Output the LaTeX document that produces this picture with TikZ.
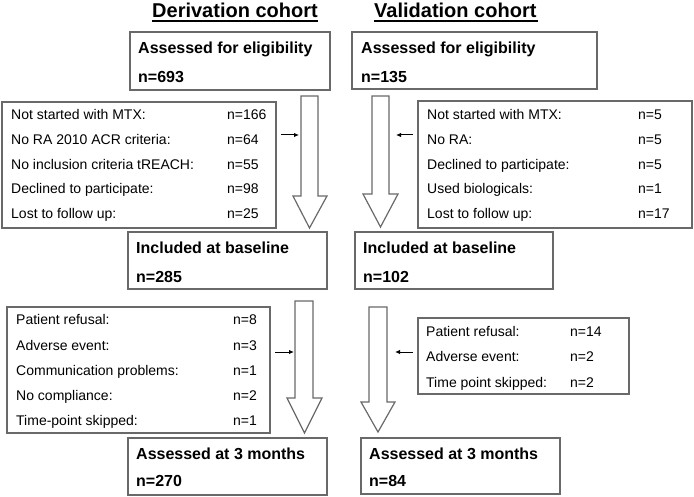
\documentclass[tikz,border=0pt]{standalone}
\usepackage{fontspec}
\setmainfont{Liberation Sans}
\usetikzlibrary{arrows.meta}
\definecolor{boxgray}{RGB}{105,105,105}
\tikzset{
  box/.style={draw=boxgray, line width=1.2pt},
  bigarrow/.style={draw=boxgray, line width=1.2pt, fill=white, line join=miter},
  smallarrow/.style={draw=black, line width=1pt, -{Latex[length=5pt,width=4.5pt]}},
  ttl/.style={inner sep=0pt, anchor=base west, font=\fontsize{20}{24}\selectfont\bfseries},
  btxt/.style={inner sep=0pt, anchor=base west, font=\fontsize{16}{19}\selectfont\bfseries},
  stxt/.style={inner sep=0pt, anchor=base west, font=\fontsize{14}{17}\selectfont},
}
\begin{document}
\begin{tikzpicture}[x=1pt,y=-1pt]
\useasboundingbox (0,0) rectangle (694,497);

% titles
\node[ttl] (t1) at (152,17.5) {Derivation cohort};
\node[ttl] (t2) at (374,17.5) {Validation cohort};
\draw[line width=1.7pt] (152,21) -- (318,21);
\draw[line width=1.7pt] (374,21) -- (538,21);

% main boxes
\draw[box] (130,32) rectangle (330,90);
\node[btxt] (d1a) at (138,54) {Assessed for eligibility};
\node[btxt] (d1b) at (138,83) {n=693};

\draw[box] (352,32) rectangle (597,89);
\node[btxt] (v1a) at (361,54) {Assessed for eligibility};
\node[btxt] (v1b) at (361,83) {n=135};

\draw[box] (128,232) rectangle (327,289);
\node[btxt] (d2a) at (136,254) {Included at baseline};
\node[btxt] (d2b) at (136,283) {n=285};

\draw[box] (355,232) rectangle (553,289);
\node[btxt] (v2a) at (363,254) {Included at baseline};
\node[btxt] (v2b) at (363,283) {n=102};

\draw[box] (128,438) rectangle (327,495);
\node[btxt] (d3a) at (136,459) {Assessed at 3 months};
\node[btxt] (d3b) at (136,486) {n=270};

\draw[box] (361,438) rectangle (560,494);
\node[btxt] (v3a) at (369,459) {Assessed at 3 months};
\node[btxt] (v3b) at (369,486) {n=84};

% exclusion box 1 (derivation)
\draw[box] (2,102) rectangle (276,228);
\foreach \t/\n [count=\i from 0] in {Not started with MTX:/n=166, No RA 2010 ACR criteria:/n=64, No inclusion criteria tREACH:/n=55, Declined to participate:/n=98, Lost to follow up:/n=25}{
  \node[stxt] (dx\i) at (11,{120+24.6*\i}) {\t};
  \node[stxt] (dn\i) at (227,{120+24.6*\i}) {\n};
}

% exclusion box 1 (validation)
\draw[box] (418,101) rectangle (692,228);
\foreach \t/\n [count=\i from 0] in {Not started with MTX:/n=5, No RA:/n=5, Declined to participate:/n=5, Used biologicals:/n=1, Lost to follow up:/n=17}{
  \node[stxt] (vx\i) at (427,{120+24.6*\i}) {\t};
  \node[stxt] (vn\i) at (638,{120+24.6*\i}) {\n};
}

% exclusion box 2 (derivation)
\draw[box] (7,307) rectangle (270,433);
\foreach \t/\n [count=\i from 0] in {Patient refusal:/n=8, Adverse event:/n=3, Communication problems:/n=1, No compliance:/n=2, Time-point skipped:/n=1}{
  \node[stxt] (ex\i) at (16,{325+25*\i}) {\t};
  \node[stxt] (en\i) at (233,{325+25*\i}) {\n};
}

% exclusion box 2 (validation)
\draw[box] (418,318) rectangle (629,394);
\foreach \t/\n [count=\i from 0] in {Patient refusal:/n=14, Adverse event:/n=2, Time point skipped:/n=2}{
  \node[stxt] (wx\i) at (426,{337+25*\i}) {\t};
  \node[stxt] (wn\i) at (570,{337+25*\i}) {\n};
}

% big hollow arrows
\draw[bigarrow] (301,96) -- (318,96) -- (318,196) -- (327,196) -- (309.5,228) -- (293,196) -- (301,196) -- cycle;
\draw[bigarrow] (372,96) -- (389,96) -- (389,194) -- (398,194) -- (380.5,227) -- (363,194) -- (372,194) -- cycle;
\draw[bigarrow] (295,301) -- (313,301) -- (313,398) -- (322,398) -- (304.5,433) -- (287,398) -- (295,398) -- cycle;
\draw[bigarrow] (369,307) -- (387,307) -- (387,402) -- (395,402) -- (378,432) -- (361,402) -- (369,402) -- cycle;

% small arrows
\coordinate (s1a) at (281,135); \coordinate (s1b) at (299,135);
\coordinate (s2a) at (413,135); \coordinate (s2b) at (396,135);
\coordinate (s3a) at (275,352); \coordinate (s3b) at (294,352);
\coordinate (s4a) at (413,352); \coordinate (s4b) at (395,352);
\draw[smallarrow] (s1a) -- (s1b);
\draw[smallarrow] (s2a) -- (s2b);
\draw[smallarrow] (s3a) -- (s3b);
\draw[smallarrow] (s4a) -- (s4b);
\end{tikzpicture}
\end{document}
